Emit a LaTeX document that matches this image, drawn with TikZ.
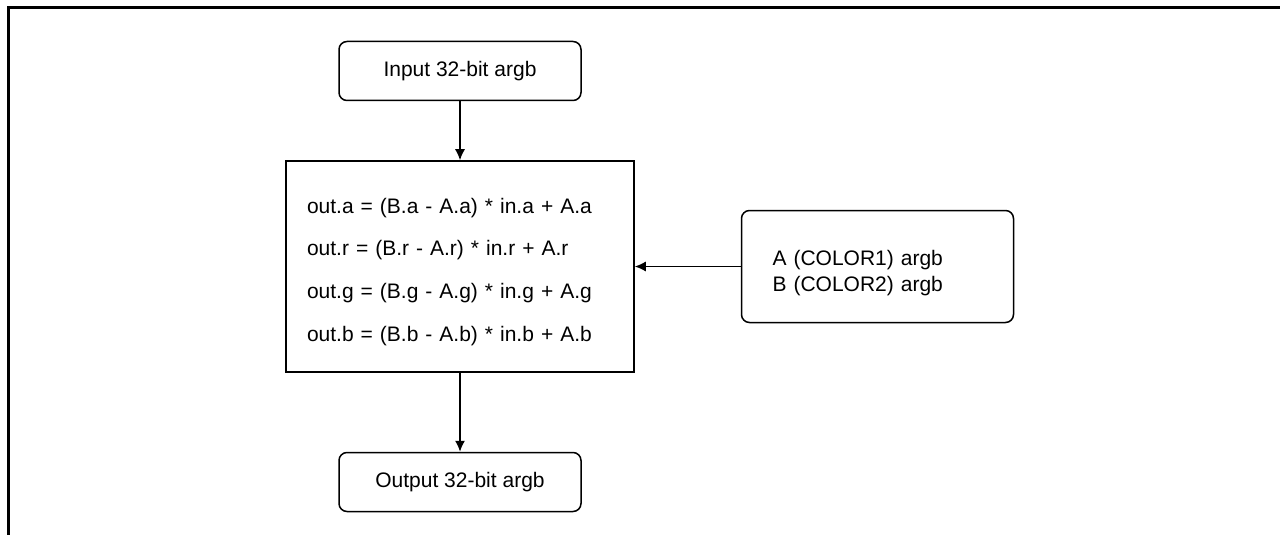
\documentclass[tikz,border=0pt]{standalone}
\usepackage{fontspec}
\setmainfont{Liberation Sans}
\usepackage{tikz}
\usetikzlibrary{positioning, arrows.meta}

\begin{document}
\begin{tikzpicture}[
    box/.style={
        rectangle,
        rounded corners=4pt,
        draw,
        line width=0.75pt,
        minimum width=121pt,
        minimum height=29.5pt,
        align=center,
        font=\fontsize{10.5}{13}\selectfont
    },
    calcbox/.style={
        rectangle,
        draw,
        line width=0.75pt,
        minimum width=174pt,
        minimum height=105.5pt,
        inner xsep=10.5pt,
        text width=153pt,
        align=left,
        font=\fontsize{10.5}{21.35}\selectfont,
        execute at begin node=\rule{0pt}{13pt}
    },
    colorbox/.style={
        rectangle,
        rounded corners=4pt,
        draw,
        line width=0.75pt,
        minimum width=136pt,
        minimum height=56pt,
        inner xsep=15.5pt,
        text width=105pt,
        align=left,
        font=\fontsize{10.5}{13}\selectfont,
        execute at begin node=\rule{0pt}{14pt}
    },
    arrow/.style={
        line width=0.75pt,
        -{Latex[length=5.5pt,width=5pt]}
    }
]

\useasboundingbox (0pt,0pt) rectangle (640pt,-267.5pt);

% Page frame
\draw[line width=1.5pt] (4pt,-267.5pt) |- (640pt,-4pt);

% Main flow

\node[box] (input) at (230pt,-35.5pt) {Input 32-bit argb};

\node[calcbox, below=29.5pt of input] (calc) {
out.a = (B.a - A.a) * in.a + A.a\\
out.r = (B.r - A.r) * in.r + A.r\\
out.g = (B.g - A.g) * in.g + A.g\\
out.b = (B.b - A.b) * in.b + A.b
};

\node[box, below=39.5pt of calc] (output) {Output 32-bit argb};

\node[colorbox, right=53pt of calc] (colors) {
A (COLOR1) argb\\
B (COLOR2) argb
};

% Arrows

\draw[arrow] (input)--(calc);
\draw[arrow] (calc)--(output);
\draw[arrow] (colors)--(calc);

\end{tikzpicture}
\end{document}
